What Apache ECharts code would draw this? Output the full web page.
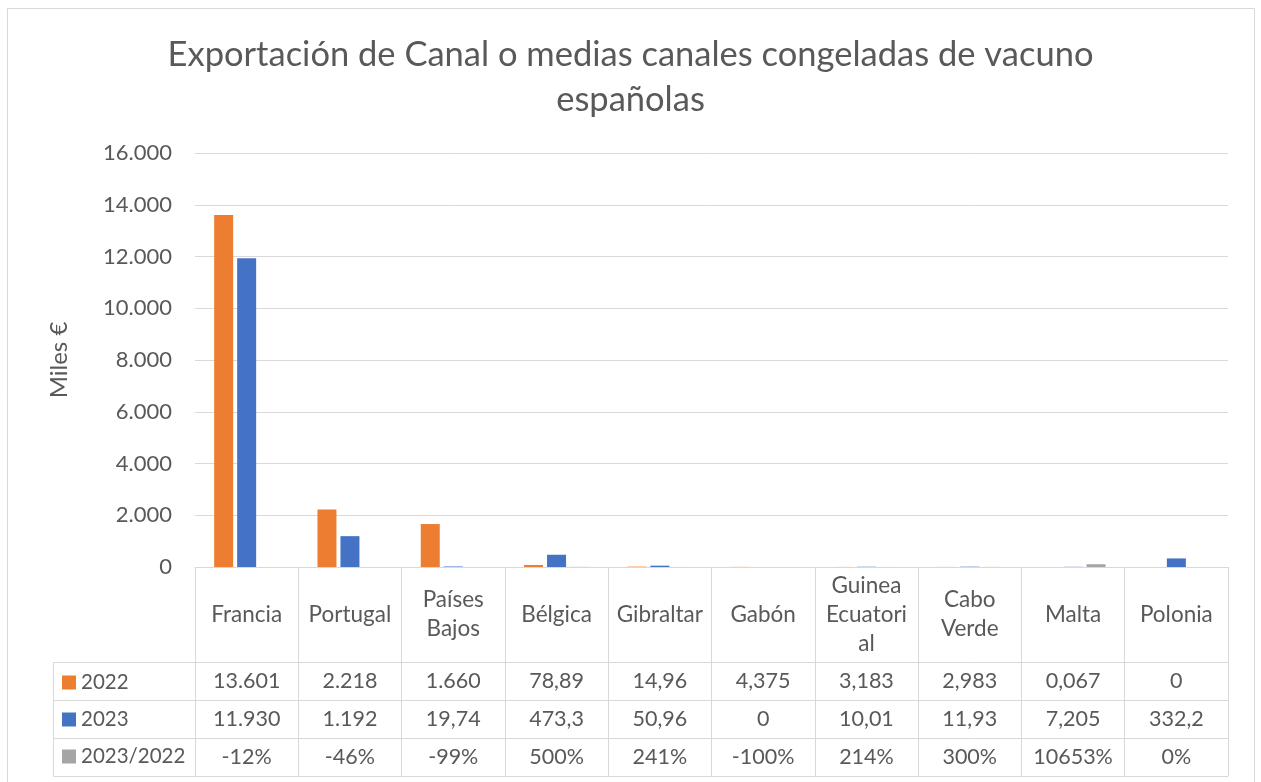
<!DOCTYPE html>
<html>
<head>
<meta charset="utf-8">
<script src="https://cdn.jsdelivr.net/npm/echarts@6/dist/echarts.min.js"></script>
<style>
  html, body { margin: 0; padding: 0; background: #fff; }
  #chart { width: 1261px; height: 782px; }
</style>
</head>
<body>
<div id="chart"></div>
<script>
// datos del gráfico
const paises = ['Francia', 'Portugal', 'Países\nBajos', 'Bélgica', 'Gibraltar', 'Gabón',
    'Guinea\nEcuatori\nal', 'Cabo\nVerde', 'Malta', 'Polonia'];
const valores2022 = [13601, 2218, 1660, 78.89, 14.96, 4.375, 3.183, 2.983, 0.067, 0];
const valores2023 = [11930, 1192, 19.74, 473.3, 50.96, 0, 10.01, 11.93, 7.205, 332.2];
const variacion = [-0.12, -0.46, -0.99, 5.0, 2.41, -1.0, 2.14, 3.0, 106.53, 0];
const seriesNames = ['2022', '2023', '2023/2022'];
const colores = ['#ED7D31', '#4472C4', '#A5A5A5'];

const FONT = 'Lato, "Open Sans", sans-serif';
const TXT = '#595959';
const LINE = '#d9d9d9';

// geometría del área de trazado / tabla
const G = { left: 195, right: 33, top: 153, bottom: 215 };
const HEAD_H = 95, ROW_H = 38;
const TABLE_LEFT = 53;
const axisY = 782 - G.bottom;

function fmtNum(v) {
    if (v >= 1000) {
        return String(Math.round(v)).replace(/\B(?=(\d{3})+(?!\d))/g, '.');
    }
    return String(Number(v.toPrecision(4))).replace('.', ',');
}
function fmtPct(v) {
    return Math.round(v * 100) + '%';
}

const filas = [
    valores2022.map(fmtNum),
    valores2023.map(fmtNum),
    variacion.map(fmtPct)
];

const chart = echarts.init(document.getElementById('chart'));

// ejes de la tabla (una fila por eje)
const xAxes = [{
    type: 'category',
    data: paises,
    axisLine: { lineStyle: { color: LINE } },
    axisTick: { show: true, interval: 0, length: HEAD_H + ROW_H * 3, lineStyle: { color: LINE } },
    axisLabel: {
        interval: 0, color: TXT, fontFamily: FONT, fontSize: 22.5,
        lineHeight: 29, verticalAlign: 'middle', margin: HEAD_H / 2
    }
}];
filas.forEach((fila, i) => {
    xAxes.push({
        type: 'category',
        data: paises,
        position: 'bottom',
        offset: HEAD_H + ROW_H * i,
        axisLine: { lineStyle: { color: LINE } },
        axisTick: { show: false },
        axisLabel: {
            interval: 0, color: TXT, fontFamily: FONT, fontSize: 21.5,
            verticalAlign: 'middle', margin: ROW_H / 2,
            formatter: (v, idx) => fila[idx]
        }
    });
});
xAxes.push({
    type: 'category',
    data: paises,
    position: 'bottom',
    offset: HEAD_H + ROW_H * 3,
    axisLine: { lineStyle: { color: LINE } },
    axisTick: { show: false },
    axisLabel: { show: false }
});

const tableTop = axisY + HEAD_H;

chart.setOption({
    animation: false,
    backgroundColor: '#fff',
    title: {
        text: 'Exportación de Canal o medias canales congeladas de vacuno\nespañolas',
        left: 'center',
        top: 32,
        padding: 0,
        textStyle: { color: TXT, fontFamily: FONT, fontSize: 34.5, fontWeight: 'normal', lineHeight: 45 }
    },
    legend: {
        data: seriesNames,
        orient: 'vertical',
        left: 57,
        top: tableTop + 5,
        itemWidth: 14,
        itemHeight: 14,
        itemGap: 16,
        icon: 'rect',
        textStyle: { color: TXT, fontFamily: FONT, fontSize: 20.5 }
    },
    grid: G,
    xAxis: xAxes,
    yAxis: {
        type: 'value',
        min: 0,
        max: 16000,
        interval: 2000,
        name: 'Miles €',
        nameLocation: 'middle',
        nameGap: 124,
        nameTextStyle: { color: TXT, fontFamily: FONT, fontSize: 24 },
        axisLine: { show: false },
        axisTick: { show: false },
        axisLabel: {
            color: TXT, fontFamily: FONT, fontSize: 22, margin: 23,
            formatter: v => fmtNum(v)
        },
        splitLine: { lineStyle: { color: LINE, width: 1 } }
    },
    series: [valores2022, valores2023, variacion].map((d, i) => ({
        name: seriesNames[i],
        type: 'bar',
        data: d,
        barWidth: 19,
        barGap: '21%',
        itemStyle: { color: colores[i] }
    })),
    graphic: [
        {
            type: 'rect',
            shape: { x: 7.5, y: 8.5, width: 1247, height: 790 },
            style: { fill: null, stroke: LINE, lineWidth: 1 },
            silent: true
        },
        {
            type: 'rect',
            shape: { x: TABLE_LEFT + 0.5, y: tableTop + 0.5, width: G.left - TABLE_LEFT, height: ROW_H * 3 },
            style: { fill: null, stroke: LINE, lineWidth: 1 },
            silent: true
        },
        {
            type: 'line',
            shape: { x1: TABLE_LEFT, y1: tableTop + ROW_H + 0.5, x2: G.left, y2: tableTop + ROW_H + 0.5 },
            style: { stroke: LINE, lineWidth: 1 },
            silent: true
        },
        {
            type: 'line',
            shape: { x1: TABLE_LEFT, y1: tableTop + ROW_H * 2 + 0.5, x2: G.left, y2: tableTop + ROW_H * 2 + 0.5 },
            style: { stroke: LINE, lineWidth: 1 },
            silent: true
        }
    ]
});
</script>
</body>
</html>
